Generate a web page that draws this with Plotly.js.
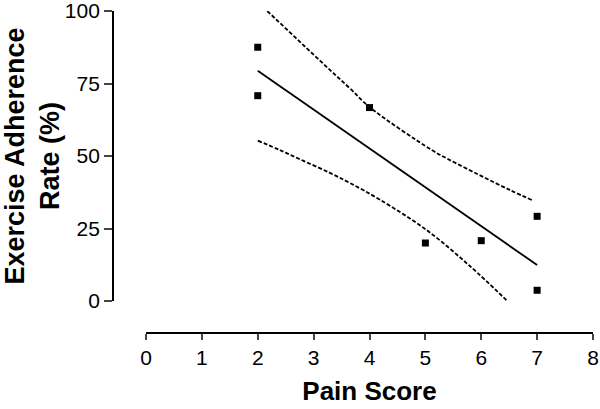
<!DOCTYPE html>
<html>
<head>
<meta charset="utf-8">
<script src="https://cdn.plot.ly/plotly-3.0.1.min.js"></script>
<style>
  html, body { margin: 0; padding: 0; background: #fff; }
  #plot { width: 600px; height: 409px; }
</style>
</head>
<body>
<div id="plot"></div>
<script>
// Observed data: pain score vs exercise adherence
var painScore = [2, 2, 4, 5, 6, 7, 7];
var adherence = [87.5, 70.8, 66.7, 20, 20.8, 29.2, 3.7];

// Regression line
var fitX = [2, 7];
var fitY = [79.4, 12.4];

// 95% confidence band
var upperX = [2.17, 3.29, 3.65, 4.0, 5.11, 5.41, 5.97, 6.51, 6.93];
var upperY = [100, 79.7, 73.3, 66.9, 52.1, 48.9, 43.4, 38.3, 34.6];
var lowerX = [2.0, 2.4, 2.81, 3.29, 3.65, 4.18, 5.02, 5.8, 6.45];
var lowerY = [55.3, 52.0, 48.4, 44.2, 40.7, 35.0, 24.5, 12.0, 0.3];

var xTicks = [0, 1, 2, 3, 4, 5, 6, 7, 8];
var yTicks = [0, 25, 50, 75, 100];

var font = "Liberation Sans, Arial, sans-serif";

var points = {
    x: painScore,
    y: adherence,
    mode: "markers",
    type: "scatter",
    marker: {symbol: "square", size: 7, color: "#000"}
};

var fit = {
    x: fitX,
    y: fitY,
    mode: "lines",
    type: "scatter",
    line: {color: "#000", width: 1.8}
};

var upper = {
    x: upperX,
    y: upperY,
    mode: "lines",
    type: "scatter",
    line: {color: "#000", width: 1.8, dash: "4px,2px", shape: "spline"}
};

var lower = {
    x: lowerX,
    y: lowerY,
    mode: "lines",
    type: "scatter",
    line: {color: "#000", width: 1.8, dash: "4px,2px", shape: "spline"}
};

var layout = {
    width: 600,
    height: 409,
    showlegend: false,
    paper_bgcolor: "#fff",
    plot_bgcolor: "#fff",
    margin: {l: 113, r: 7, t: 11, b: 76},
    font: {family: font, color: "#000", size: 20},
    xaxis: {
        range: [0, 8],
        domain: [33 / 480, 1],
        anchor: "free",
        position: 0,
        tickvals: xTicks,
        ticks: "outside",
        ticklen: 6,
        tickwidth: 1.8,
        showline: true,
        linewidth: 1.8,
        linecolor: "#000",
        showgrid: false,
        zeroline: false,
        ticklabeloverflow: "allow",
        tickfont: {size: 21},
        title: {text: "<b>Pain Score</b>", font: {size: 26}, standoff: 13}
    },
    yaxis: {
        range: [0, 100],
        domain: [32 / 322, 1],
        anchor: "free",
        position: 0,
        tickvals: yTicks,
        ticks: "outside",
        ticklen: 8,
        tickwidth: 1.8,
        showline: true,
        linewidth: 1.8,
        linecolor: "#000",
        showgrid: false,
        zeroline: false,
        ticklabeloverflow: "allow",
        tickfont: {size: 21},
        title: {text: "<b>Exercise Adherence<br>Rate (%)</b>", font: {size: 27}, standoff: 10}
    }
};

Plotly.newPlot("plot", [points, fit, upper, lower], layout, {displayModeBar: false});
</script>
</body>
</html>
